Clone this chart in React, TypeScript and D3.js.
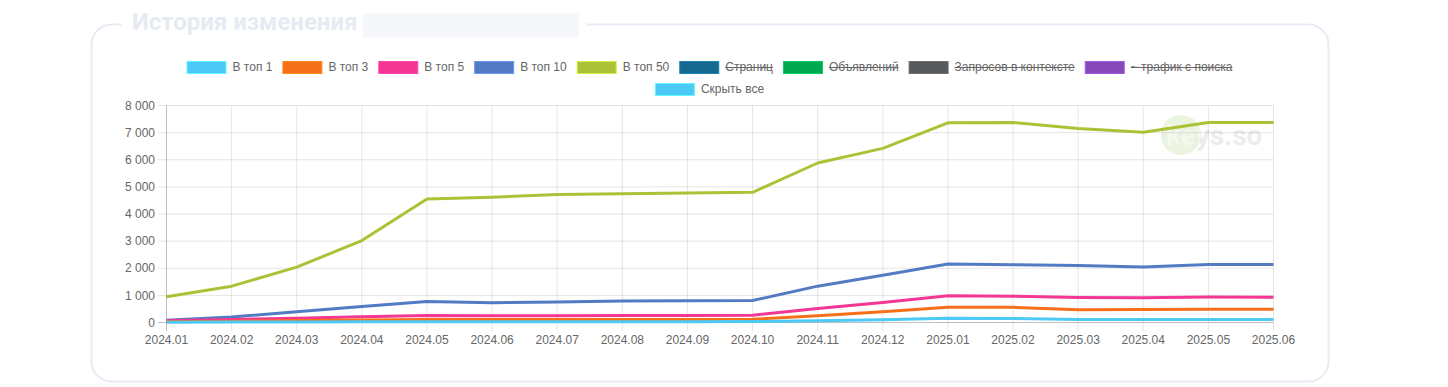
import React, { useEffect, useRef } from "react";
import * as d3 from "d3";

const months = [
  "2024.01", "2024.02", "2024.03", "2024.04", "2024.05", "2024.06",
  "2024.07", "2024.08", "2024.09", "2024.10", "2024.11", "2024.12",
  "2025.01", "2025.02", "2025.03", "2025.04", "2025.05", "2025.06",
];

const top1 = [10, 15, 20, 25, 30, 30, 30, 30, 32, 35, 60, 100, 160, 150, 115, 110, 115, 115];
const top3 = [30, 50, 70, 90, 110, 110, 110, 112, 115, 120, 245, 395, 565, 560, 470, 475, 485, 485];
const top5 = [60, 110, 160, 210, 260, 250, 250, 255, 260, 270, 520, 740, 990, 970, 920, 910, 940, 930];
const top10 = [80, 200, 400, 590, 770, 730, 760, 790, 800, 810, 1340, 1740, 2160, 2130, 2100, 2050, 2140, 2140];
const top50 = [950, 1340, 2040, 3020, 4550, 4620, 4720, 4750, 4770, 4800, 5880, 6420, 7360, 7370, 7150, 7010, 7370, 7370];

const yTicks = [0, 1000, 2000, 3000, 4000, 5000, 6000, 7000, 8000];

interface Series {
  label: string;
  color: string;
  values: number[] | null;
  hidden: boolean;
}

const series: Series[] = [
  { label: "В топ 1", color: "#4dc9f6", values: top1, hidden: false },
  { label: "В топ 3", color: "#f67019", values: top3, hidden: false },
  { label: "В топ 5", color: "#f53794", values: top5, hidden: false },
  { label: "В топ 10", color: "#537bc4", values: top10, hidden: false },
  { label: "В топ 50", color: "#acc236", values: top50, hidden: false },
  { label: "Страниц", color: "#166a8f", values: null, hidden: true },
  { label: "Объявлений", color: "#00a950", values: null, hidden: true },
  { label: "Запросов в контексте", color: "#58595b", values: null, hidden: true },
  { label: "~ трафик с поиска", color: "#8549ba", values: null, hidden: true },
  { label: "Скрыть все", color: "#4dc9f6", values: null, hidden: false },
];

const FONT = "'Liberation Sans', Arial, Helvetica, sans-serif";

const App: React.FC = () => {
  const svgRef = useRef<SVGSVGElement>(null);

  useEffect(() => {
    const width = 1448;
    const height = 387;
    const svg = d3.select(svgRef.current).attr("width", width).attr("height", height);
    svg.selectAll("*").remove();

    // card frame, title sits in a gap of the top border
    const card = { x: 91.5, y: 24.5, w: 1237, h: 357, r: 20 };
    svg
      .append("path")
      .attr(
        "d",
        `M${card.x + 30},${card.y} L${card.x + card.r},${card.y} ` +
          `A${card.r},${card.r} 0 0 0 ${card.x},${card.y + card.r} ` +
          `L${card.x},${card.y + card.h - card.r} ` +
          `A${card.r},${card.r} 0 0 0 ${card.x + card.r},${card.y + card.h} ` +
          `L${card.x + card.w - card.r},${card.y + card.h} ` +
          `A${card.r},${card.r} 0 0 0 ${card.x + card.w},${card.y + card.h - card.r} ` +
          `L${card.x + card.w},${card.y + card.r} ` +
          `A${card.r},${card.r} 0 0 0 ${card.x + card.w - card.r},${card.y} ` +
          `L587,${card.y}`
      )
      .attr("fill", "none")
      .attr("stroke", "#e6ebf4")
      .attr("stroke-width", 2);

    svg
      .append("text")
      .attr("x", 132)
      .attr("y", 30)
      .attr("font-family", "Roboto, " + FONT)
      .attr("font-weight", 700)
      .attr("font-size", 24)
      .attr("fill", "#e6ebf3")
      .text("История изменения");

    svg
      .append("rect")
      .attr("x", 363)
      .attr("y", 13)
      .attr("width", 216)
      .attr("height", 24)
      .attr("fill", "#f5f7fa");

    const x = d3.scalePoint<string>().domain(months).range([166.5, 1273.5]);
    const y = d3.scaleLinear().domain([0, 8000]).range([322.5, 105.5]);

    // watermark
    const defs = svg.append("defs");
    defs
      .append("clipPath")
      .attr("id", "wm-clip")
      .append("circle")
      .attr("cx", 1181)
      .attr("cy", 135)
      .attr("r", 20);
    svg
      .append("circle")
      .attr("cx", 1181)
      .attr("cy", 135)
      .attr("r", 20)
      .attr("fill", "#eaf4df");
    const wm = (fill: string, clip: boolean) => {
      const t = svg
        .append("text")
        .attr("x", 1166)
        .attr("y", 145)
        .attr("font-family", "Roboto, " + FONT)
        .attr("font-weight", 700)
        .attr("font-size", 28)
        .attr("fill", fill)
        .text("keys.so");
      if (clip) t.attr("clip-path", "url(#wm-clip)");
    };
    wm("#ededed", false);
    wm("#f4f9ef", true);

    const grid = svg.append("g");
    grid
      .selectAll("line.h")
      .data(yTicks)
      .enter()
      .append("line")
      .attr("x1", 158)
      .attr("x2", 1273.5)
      .attr("y1", (d) => y(d))
      .attr("y2", (d) => y(d))
      .attr("stroke", (d) => (d === 0 ? "rgba(0,0,0,0.25)" : "rgba(0,0,0,0.1)"));
    grid
      .selectAll("line.v")
      .data(months)
      .enter()
      .append("line")
      .attr("x1", (d) => x(d)!)
      .attr("x2", (d) => x(d)!)
      .attr("y1", 105.5)
      .attr("y2", 331)
      .attr("stroke", (d, i) => (i === 0 ? "rgba(0,0,0,0.25)" : "rgba(0,0,0,0.1)"));

    svg
      .append("g")
      .selectAll("text")
      .data(yTicks)
      .enter()
      .append("text")
      .attr("x", 155)
      .attr("y", (d) => y(d))
      .attr("dy", "0.35em")
      .attr("text-anchor", "end")
      .attr("font-family", FONT)
      .attr("font-size", 12)
      .attr("fill", "#666")
      .text((d) => d3.format(",")(d).replace(/,/g, " "));

    svg
      .append("g")
      .selectAll("text")
      .data(months)
      .enter()
      .append("text")
      .attr("x", (d) => x(d)!)
      .attr("y", 344)
      .attr("text-anchor", "middle")
      .attr("font-family", FONT)
      .attr("font-size", 12)
      .attr("fill", "#666")
      .text((d) => d);

    const line = d3
      .line<number>()
      .x((d, i) => x(months[i])!)
      .y((d) => y(d));

    // first dataset on top, like chart.js
    const drawn = series.filter((s) => s.values && !s.hidden).reverse();
    svg
      .append("g")
      .selectAll("path")
      .data(drawn)
      .enter()
      .append("path")
      .attr("d", (s) => line(s.values!))
      .attr("fill", "none")
      .attr("stroke", (s) => s.color)
      .attr("stroke-width", 3)
      .attr("stroke-linejoin", "round");

    // legend
    const ctx = document.createElement("canvas").getContext("2d")!;
    ctx.font = "12px " + FONT;
    const boxW = 40;
    const pad = 10;
    const maxW = 1140;
    const center = 709.5;
    const items = series.map((s) => {
      const tw = ctx.measureText(s.label).width;
      return { s, w: boxW + 6 + tw, tw };
    });
    const rows: { s: Series; w: number; tw: number }[][] = [[]];
    let rowW = 0;
    items.forEach((it) => {
      if (rowW + it.w + pad > maxW && rows[rows.length - 1].length) {
        rows.push([]);
        rowW = 0;
      }
      rows[rows.length - 1].push(it);
      rowW += it.w + pad;
    });

    const legend = svg.append("g");
    rows.forEach((row, ri) => {
      const total = d3.sum(row, (r) => r.w) + pad * (row.length - 1);
      let cx = center - total / 2;
      const cy = 61 + ri * 22;
      row.forEach((it) => {
        legend
          .append("rect")
          .attr("x", cx + 0.5)
          .attr("y", cy + 0.5)
          .attr("width", boxW - 1)
          .attr("height", 12)
          .attr("fill", it.s.color)
          .attr("stroke", d3.color(it.s.color)!.brighter(0.6).formatHex())
          .attr("stroke-width", 1);
        legend
          .append("text")
          .attr("x", cx + boxW + 6)
          .attr("y", cy + 6)
          .attr("dy", "0.35em")
          .attr("font-family", FONT)
          .attr("font-size", 12)
          .attr("fill", "#666")
          .text(it.s.label);
        if (it.s.hidden) {
          legend
            .append("line")
            .attr("x1", cx + boxW + 6)
            .attr("x2", cx + boxW + 6 + it.tw)
            .attr("y1", cy + 6.5)
            .attr("y2", cy + 6.5)
            .attr("stroke", "#666")
            .attr("stroke-width", 1);
        }
        cx += it.w + pad;
      });
    });
  }, []);

  return (
    <div style={{ position: "absolute", left: 0, top: 0, width: 1448, height: 387, background: "#fff" }}>
      <svg ref={svgRef}></svg>
    </div>
  );
};

export default App;
